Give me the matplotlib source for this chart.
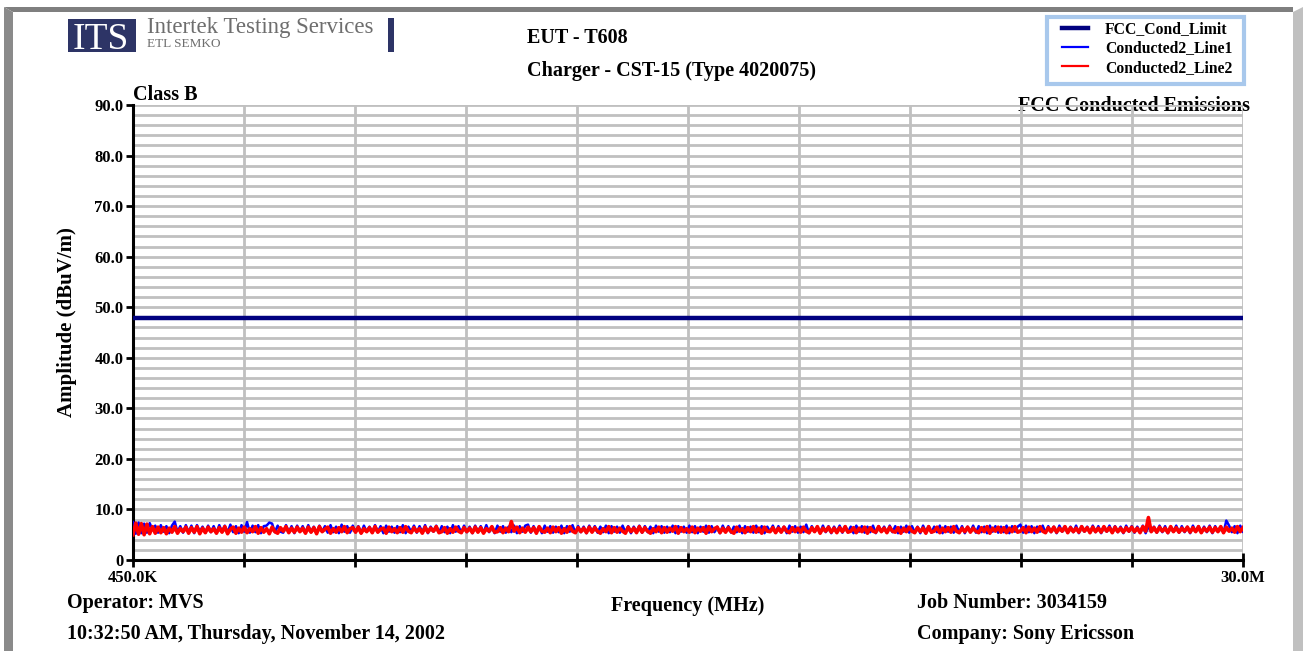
import numpy as np
import matplotlib
matplotlib.use("Agg")
import matplotlib.pyplot as plt
from matplotlib.patches import Polygon, Rectangle

plt.rcParams["font.family"] = ["Liberation Serif", "DejaVu Serif"]
plt.rcParams["font.weight"] = "bold"

# --- data -----------------------------------------------------------------
f_start, f_stop = 0.45, 30.0          # MHz
limit_level = 47.9                    # FCC_Cond_Limit, dBuV
y_ticks = [0, 10, 20, 30, 40, 50, 60, 70, 80, 90]
y_tick_labels = ["0", "10.0", "20.0", "30.0", "40.0", "50.0", "60.0", "70.0", "80.0", "90.0"]
x_tick_labels = ["450.0K", "", "", "", "", "", "", "", "", "", "30.0M"]

line1 = [
    7.5, 5.2, 7.4, 5.3, 7.2, 5.4, 7.3, 6.0, 6.8, 5.4, 6.9, 5.6, 6.7, 5.3, 6.8, 7.6, 5.5, 6.7, 5.4, 6.9,
    5.5, 6.8, 5.3, 6.9, 5.6, 6.6, 5.4, 6.8, 5.5, 6.7, 5.3, 6.9, 5.6, 6.8, 5.4, 7.0, 5.5, 6.7, 5.3, 6.9,
    5.6, 7.5, 5.4, 6.8, 5.5, 6.9, 5.3, 6.7, 6.8, 7.4, 7.2, 5.5, 6.8, 5.6, 5.4, 6.9, 5.5, 6.7, 5.3, 6.8,
    5.6, 6.7, 5.4, 6.9, 5.5, 6.6, 5.3, 6.8, 5.6, 6.7, 5.4, 6.9, 5.5, 6.6, 5.3, 7.0, 5.6, 6.7, 5.4, 6.8,
    5.5, 6.7, 5.3, 6.8, 5.6, 6.6, 5.4, 6.9, 5.5, 6.7, 5.3, 6.8, 5.6, 6.6, 5.4, 6.7, 5.5, 6.9, 5.3, 6.6,
    5.6, 6.8, 5.4, 6.7, 5.5, 6.9, 5.3, 6.6, 5.6, 6.8, 5.4, 6.7, 5.5, 6.6, 5.3, 6.9, 5.6, 6.7, 5.4, 6.8,
    5.5, 6.6, 5.3, 6.8, 5.6, 6.7, 5.4, 6.9, 5.5, 6.6, 5.3, 6.8, 5.6, 6.7, 5.4, 6.6, 5.5, 6.8, 5.3, 6.7,
    5.6, 6.8, 7.0, 5.4, 6.7, 5.5, 6.6, 5.3, 6.8, 5.6, 6.7, 5.4, 6.6, 5.5, 6.8, 5.3, 6.7, 5.6, 6.9, 5.4,
    6.7, 5.5, 6.6, 5.3, 6.8, 5.6, 6.7, 5.4, 6.6, 5.5, 6.8, 5.3, 6.7, 5.6, 6.6, 5.4, 6.8, 5.5, 6.7, 5.3,
    6.6, 5.6, 6.8, 5.4, 6.7, 5.5, 6.6, 5.3, 6.8, 5.6, 6.7, 5.4, 6.6, 5.5, 6.8, 5.3, 6.7, 5.6, 6.6, 5.4,
    6.8, 5.5, 6.7, 5.3, 6.6, 5.6, 6.8, 5.4, 6.7, 5.5, 6.6, 5.3, 6.8, 5.6, 6.7, 5.4, 6.6, 5.5, 6.8, 5.3,
    6.7, 5.6, 6.6, 5.4, 6.8, 5.5, 6.7, 5.3, 6.6, 5.6, 6.8, 5.4, 6.7, 5.5, 6.6, 5.3, 6.8, 5.6, 6.7, 5.4,
    6.6, 5.5, 7.0, 5.3, 6.7, 5.6, 6.6, 5.4, 6.8, 5.5, 6.7, 5.3, 6.6, 5.6, 6.8, 5.4, 6.7, 5.5, 6.6, 5.3,
    6.8, 5.6, 6.7, 5.4, 6.6, 5.5, 6.8, 5.3, 6.7, 5.6, 6.6, 5.4, 6.8, 5.5, 6.7, 5.3, 6.6, 5.6, 6.8, 5.4,
    6.7, 5.5, 6.6, 5.3, 6.8, 5.6, 6.7, 5.4, 6.6, 5.5, 6.8, 5.3, 6.7, 5.6, 6.6, 5.4, 6.8, 5.5, 6.7, 5.3,
    6.6, 5.6, 6.8, 5.4, 6.7, 5.5, 6.6, 5.3, 6.8, 5.6, 6.7, 5.4, 6.6, 5.5, 6.8, 5.3, 6.7, 5.6, 6.6, 7.0,
    5.4, 6.8, 5.5, 6.7, 5.3, 6.6, 5.6, 6.8, 5.4, 6.7, 5.5, 6.6, 5.3, 6.8, 5.6, 6.7, 5.4, 6.6, 5.5, 6.8,
    5.3, 6.7, 5.6, 6.6, 5.4, 6.8, 5.5, 6.7, 5.3, 6.6, 5.6, 6.8, 5.4, 6.7, 5.5, 6.6, 5.3, 6.8, 5.6, 6.7,
    5.4, 6.6, 5.5, 6.8, 5.3, 6.7, 5.6, 6.6, 5.4, 6.8, 5.5, 6.7, 5.3, 6.6, 5.6, 6.8, 5.4, 6.7, 5.5, 6.6,
    5.3, 6.8, 5.6, 6.7, 5.4, 6.6, 5.5, 6.8, 5.3, 6.7, 5.6, 6.6, 5.4, 7.8, 6.8, 5.5, 6.7, 5.3, 6.8, 5.6,
]
line2 = [
    5.0, 7.3, 5.1, 7.2, 5.0, 7.1, 5.2, 6.6, 5.3, 6.5, 5.4, 6.4, 5.2, 6.3, 5.5, 6.6, 5.3, 6.2, 5.6, 6.5,
    5.3, 6.4, 5.5, 6.6, 5.2, 6.3, 5.4, 6.5, 5.6, 6.2, 5.3, 6.4, 5.5, 6.6, 5.2, 6.1, 6.5, 5.3, 6.3, 5.5,
    6.5, 5.4, 6.2, 5.6, 6.6, 5.3, 6.4, 5.5, 6.2, 5.2, 6.5, 5.6, 5.3, 6.4, 5.7, 6.6, 5.4, 6.3, 5.5, 6.5,
    5.6, 6.3, 5.3, 6.5, 5.5, 6.4, 5.2, 6.6, 5.6, 6.1, 6.5, 5.3, 6.2, 5.5, 6.4, 5.6, 6.6, 5.4, 6.2, 6.4,
    5.5, 6.5, 5.3, 6.2, 5.6, 6.4, 5.4, 6.6, 5.5, 6.1, 6.3, 5.3, 6.5, 5.6, 6.2, 5.4, 6.4, 5.5, 6.6, 5.7,
    5.4, 6.4, 5.6, 6.2, 5.3, 6.5, 5.5, 6.3, 5.7, 6.6, 5.4, 5.6, 6.4, 5.3, 6.2, 5.5, 6.5, 5.7, 5.4, 6.4,
    5.6, 6.3, 5.4, 6.5, 5.5, 6.4, 5.3, 6.2, 5.7, 6.6, 5.5, 5.6, 6.4, 5.4, 6.3, 5.6, 7.6, 5.7, 6.5, 5.4,
    6.3, 5.5, 6.5, 5.6, 6.4, 5.3, 6.6, 5.7, 5.5, 6.3, 5.4, 6.5, 5.6, 6.4, 5.3, 6.2, 5.5, 6.6, 5.7, 5.4,
    6.4, 5.6, 6.3, 5.4, 6.5, 5.5, 6.4, 5.7, 5.3, 6.2, 5.6, 6.6, 5.4, 6.4, 5.5, 6.3, 5.7, 5.3, 6.5, 5.6,
    6.3, 5.4, 6.6, 5.5, 6.4, 5.7, 5.3, 6.2, 5.6, 6.5, 5.4, 6.4, 5.5, 6.3, 5.7, 6.6, 5.3, 6.4, 5.6, 6.2,
    5.5, 6.5, 5.4, 6.3, 5.7, 6.4, 5.3, 6.6, 5.6, 6.2, 6.5, 5.4, 6.3, 5.5, 6.4, 5.6, 5.3, 6.5, 5.7, 6.2,
    5.4, 6.4, 5.6, 6.6, 5.5, 6.3, 5.3, 6.5, 5.7, 5.6, 6.4, 5.4, 6.3, 5.5, 6.5, 5.7, 5.4, 6.4, 5.6, 6.3,
    5.5, 6.5, 5.7, 5.4, 6.4, 5.6, 6.6, 5.3, 6.3, 5.7, 6.5, 5.5, 6.3, 5.4, 6.4, 5.6, 6.6, 5.5, 5.7, 6.4,
    5.4, 6.3, 5.6, 6.5, 5.3, 6.4, 5.7, 5.5, 6.6, 5.6, 6.3, 5.4, 6.5, 5.7, 5.5, 6.4, 5.3, 6.3, 5.6, 6.5,
    5.7, 5.4, 6.4, 5.6, 6.3, 5.3, 6.6, 5.5, 5.7, 6.5, 5.4, 6.3, 5.6, 6.4, 5.5, 6.6, 5.7, 5.4, 6.3, 5.6,
    6.5, 5.5, 6.3, 5.7, 5.4, 6.4, 5.6, 6.6, 5.3, 6.3, 5.7, 6.5, 5.5, 6.4, 5.4, 6.3, 5.6, 6.6, 5.5, 5.7,
    6.4, 5.4, 6.5, 5.6, 6.3, 5.5, 6.6, 5.7, 5.4, 6.4, 5.6, 6.5, 5.5, 6.3, 5.7, 6.6, 5.4, 6.4, 5.6, 6.3,
    5.5, 6.6, 5.7, 6.4, 5.4, 6.5, 5.6, 6.3, 5.5, 6.6, 5.7, 6.4, 5.4, 6.5, 5.6, 6.3, 5.5, 6.4, 5.7, 6.5,
    5.6, 6.3, 5.4, 6.6, 5.7, 8.4, 5.6, 6.4, 5.5, 6.5, 5.7, 6.3, 5.4, 6.6, 5.6, 6.4, 5.5, 6.3, 5.7, 6.5,
    5.5, 6.4, 5.6, 6.6, 5.4, 6.3, 5.7, 6.5, 5.5, 6.4, 5.6, 6.6, 5.4, 6.5, 5.7, 6.3, 5.5, 6.6, 5.6, 6.4,
]

# sweep points are evenly spaced between start and stop
freq1 = np.linspace(f_start, f_stop, len(line1))
freq2 = np.linspace(f_start, f_stop, len(line2))

W, H = 1303, 651
fig = plt.figure(figsize=(W / 100, H / 100), dpi=100)
fig.patch.set_facecolor("white")


def px(x, y):
    return x / W, 1 - y / H


# window frame
fig.add_artist(Polygon([px(4, 7), px(1293, 7), px(1293, 12), px(13, 12)],
                       closed=True, facecolor="#7f7f7f", edgecolor="none", transform=fig.transFigure))
fig.add_artist(Polygon([px(4, 7), px(13, 12), px(13, 651), px(4, 651)],
                       closed=True, facecolor="#8a8a8a", edgecolor="none", transform=fig.transFigure))
fig.add_artist(Polygon([px(1293, 12), px(1303, 7), px(1303, 651), px(1293, 651)],
                       closed=True, facecolor="#c0c0c0", edgecolor="none", transform=fig.transFigure))

# logo
x0, y0 = px(68, 52)
fig.add_artist(Rectangle((x0, y0), 68 / W, 33 / H, facecolor="#2d3466",
                         edgecolor="none", transform=fig.transFigure))
fig.text(*px(101, 49), "ITS", color="white", fontsize=27, fontweight="normal",
         ha="center", va="baseline")
fig.text(*px(147, 33.5), "Intertek Testing Services", color="#6e6e6e", fontsize=16.5,
         fontweight="normal", ha="left", va="baseline")
fig.text(*px(147, 47), "ETL SEMKO", color="#6e6e6e", fontsize=9.5,
         fontweight="normal", ha="left", va="baseline")
bx, by = px(388, 52)
fig.add_artist(Rectangle((bx, by), 6 / W, 34 / H, facecolor="#2d3466",
                         edgecolor="none", transform=fig.transFigure))

# titles and footer
fs = 14.5
fig.text(*px(527, 38), "EUT - T608", fontsize=fs, ha="left", va="center")
fig.text(*px(527, 71), "Charger - CST-15 (Type 4020075)", fontsize=fs, ha="left", va="center")
fig.text(*px(67, 603), "Operator: MVS", fontsize=fs, ha="left", va="center")
fig.text(*px(67, 634), "10:32:50 AM, Thursday, November 14, 2002", fontsize=fs, ha="left", va="center")
fig.text(*px(688, 606), "Frequency (MHz)", fontsize=fs, ha="center", va="center")
fig.text(*px(917, 603), "Job Number: 3034159", fontsize=fs, ha="left", va="center")
fig.text(*px(917, 634), "Company: Sony Ericsson", fontsize=fs, ha="left", va="center")
fig.text(*px(67, 322), "Amplitude (dBuV/m)", fontsize=15, rotation=90, ha="center", va="center")

# plot area
ax = fig.add_axes([133 / W, 1 - 560 / H, 1110 / W, 455 / H])
ax.set_xlim(f_start, f_stop)
ax.set_ylim(0, 90)

ax.set_xticks(np.linspace(f_start, f_stop, len(x_tick_labels)))
ax.set_xticklabels(x_tick_labels)
ax.set_yticks(y_ticks)
ax.set_yticklabels(y_tick_labels)
ax.set_yticks(np.arange(0, 91, 2), minor=True)
ax.tick_params(axis="both", labelsize=12, width=2, color="black")
ax.tick_params(axis="x", length=10, direction="inout", pad=2)
ax.tick_params(axis="y", length=5, direction="out", pad=2)
ax.tick_params(axis="y", which="minor", length=0)

ax.grid(True, axis="y", which="both", color="#c0c0c0", linewidth=2)
ax.grid(True, axis="x", which="major", color="#c0c0c0", linewidth=2)
ax.set_axisbelow(True)

for s in ("top", "right"):
    ax.spines[s].set_visible(False)
ax.spines["bottom"].set_linewidth(2.2)
ax.spines["left"].set_linewidth(2.2)
ax.spines["left"].set_linestyle((0, (8, 1)))

ax.axhline(limit_level, color="#000080", linewidth=3.2, label="FCC_Cond_Limit", zorder=3)
ax.plot(freq1, line1, color="#0000ff", linewidth=1.8, label="Conducted2_Line1", zorder=4)
ax.plot(freq2, line2, color="#ff0000", linewidth=2.6, label="Conducted2_Line2", zorder=5)

ax.text(0, 1.0, "Class B", transform=ax.transAxes, fontsize=fs, ha="left", va="bottom")
ax.text(1.006, 0.998, "FCC Conducted Emissions", transform=ax.transAxes, fontsize=fs,
        ha="right", va="center", zorder=0, clip_on=False)

# legend box
lx, ly = px(1047, 84)
fig.add_artist(Rectangle((lx, ly), 197 / W, 67 / H, facecolor="white", edgecolor="#a8c8ec",
                         linewidth=3, transform=fig.transFigure))
leg = fig.legend(loc="upper left", bbox_to_anchor=px(1062, 21), bbox_transform=fig.transFigure,
                 fontsize=11.3, frameon=False, handlelength=1.65,
                 borderpad=0, labelspacing=0.22, handletextpad=1.08, borderaxespad=0)
for h in leg.legend_handles[1:]:
    h.set_linewidth(1.6)

fig.savefig("out.png", dpi=100, facecolor="white")
